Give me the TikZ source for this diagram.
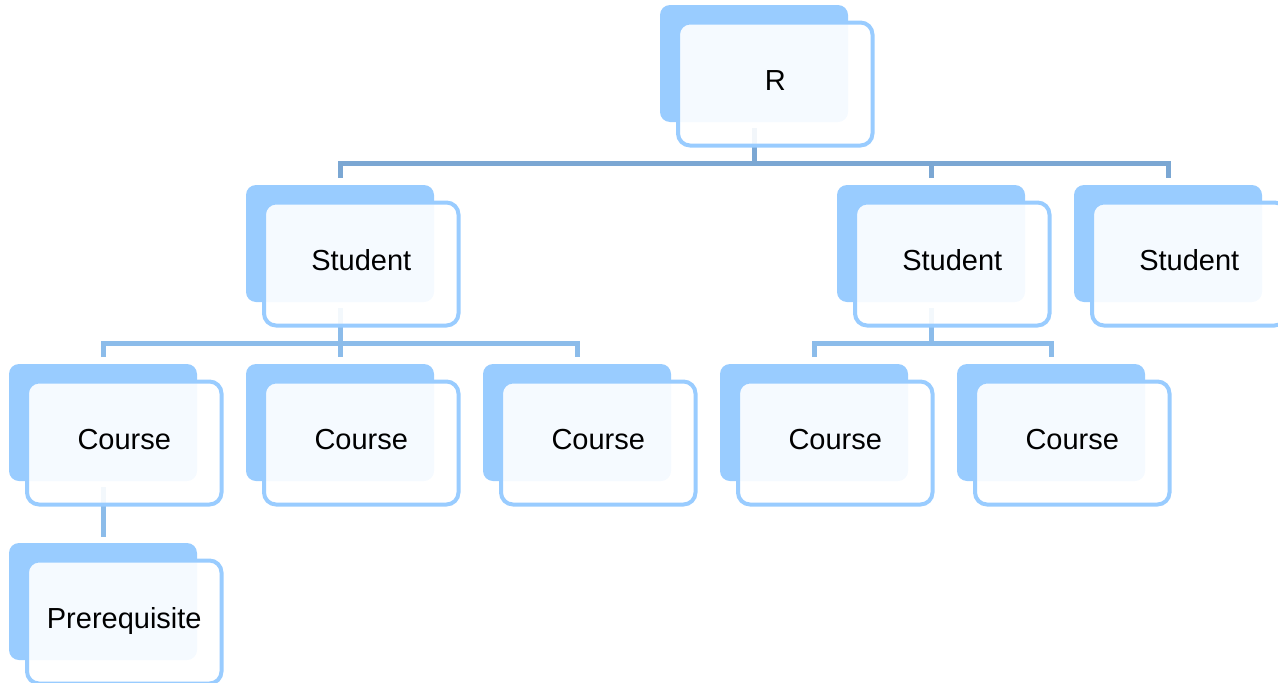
\documentclass[tikz,border=0pt]{standalone}
\usepackage{fontspec}
\setmainfont{Liberation Sans}
\usetikzlibrary{calc}
\definecolor{boxblue}{HTML}{99CCFF}
\definecolor{linkA}{HTML}{7BA7D3}
\definecolor{linkB}{HTML}{8CBCEA}
\pgfdeclarelayer{links}
\pgfsetlayers{links,main}

% one tree entry: solid back card plus translucent outlined front card
\newcommand\treeitem[4]{%
  \node[backbox] (#1B) at (#2+94, #3+58.5) {};
  \node[frontbox] (#1F) at (#2+115.25, #3+79) {#4};
}

\begin{document}
\begin{tikzpicture}[x=1pt,y=-1pt,
  backbox/.style={rectangle, rounded corners=10pt, fill=boxblue,
    minimum width=188pt, minimum height=117pt, inner sep=0pt, outer sep=0pt},
  frontbox/.style={rectangle, rounded corners=12pt, draw=boxblue, line width=4pt,
    fill=white, fill opacity=0.9, text opacity=1,
    minimum width=194.5pt, minimum height=123pt, inner sep=0pt,
    font=\fontsize{29}{34}\selectfont, text height=13pt, text depth=0pt},
  linkone/.style={draw=linkA, line width=5pt, line join=miter},
  linktwo/.style={draw=linkB, line width=5pt, line join=miter}]

\useasboundingbox (0,0) rectangle (1278,683);
\clip (0,0) rectangle (1278,683);

% root
\treeitem{r}{660}{5}{R}
% students
\treeitem{sa}{246}{185}{Student}
\treeitem{sb}{837}{185}{Student}
\treeitem{sc}{1074}{185}{Student}
% courses
\treeitem{ca}{9}{364}{Course}
\treeitem{cb}{246}{364}{Course}
\treeitem{cc}{483}{364}{Course}
\treeitem{cd}{720}{364}{Course}
\treeitem{ce}{957}{364}{Course}
% prerequisite
\treeitem{pa}{9}{543}{Prerequisite}

\begin{pgfonlayer}{links}
  % root to students
  \draw[linkone] ($(rB.south)+(0,6)$) |- ($(saB.north)+(0,-21.5)$) -- ($(saB.north)+(0,-7)$);
  \draw[linkone] ($(saB.north)+(0,-21.5)$) -- ($(scB.north)+(0,-21.5)$) -- ($(scB.north)+(0,-7)$);
  \draw[linkone] ($(sbB.north)+(0,-21.5)$) -- ($(sbB.north)+(0,-7)$);
  % first student to its courses
  \draw[linktwo] ($(saB.south)+(0,6)$) -- ($(cbB.north)+(0,-7)$);
  \draw[linktwo] ($(caB.north)+(0,-7)$) |- ($(ccB.north)+(0,-20.5)$) -- ($(ccB.north)+(0,-7)$);
  % second student to its courses
  \draw[linktwo] ($(sbB.south)+(0,6)$) -- ($(sbB.south)+(0,41.5)$);
  \draw[linktwo] ($(cdB.north)+(0,-7)$) |- ($(ceB.north)+(0,-20.5)$) -- ($(ceB.north)+(0,-7)$);
  % course to prerequisite
  \draw[linktwo] ($(caB.south)+(0,6)$) -- ($(paB.north)+(0,-6)$);
\end{pgfonlayer}
\end{tikzpicture}
\end{document}
